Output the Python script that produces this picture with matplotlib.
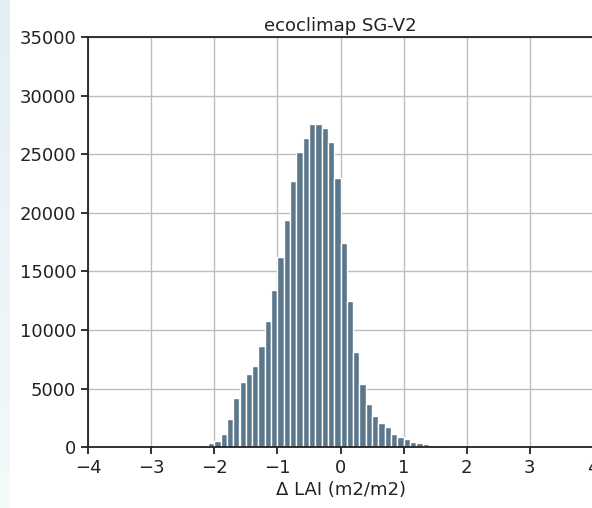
import numpy as np
import matplotlib.pyplot as plt

# histogram of LAI differences, bins of 0.1 from -2.4 to 1.8
bin_left = -2.4
bin_width = 0.1
counts = [50, 120, 180, 330, 530, 1100, 2380, 4180, 5550, 6260,
          6940, 8650, 10800, 13380, 16250, 19400, 22750, 25150, 26400, 27600,
          27600, 27200, 26000, 23000, 17450, 12450, 8100, 5350, 3670, 2700,
          2040, 1700, 1100, 900, 700, 470, 330, 250, 200, 220,
          150, 50]

title = "ecoclimap SG-V2"
xlabel = "\u0394 LAI (m2/m2)"
xticks = [-4, -3, -2, -1, 0, 1, 2, 3, 4]
yticks = [0, 5000, 10000, 15000, 20000, 25000, 30000, 35000]

edges = bin_left + bin_width * np.arange(len(counts) + 1)
centers = 0.5 * (edges[:-1] + edges[1:])

W, H = 592, 508
fig = plt.figure(figsize=(W / 100, H / 100), dpi=100)

# light strip on the far left of the screenshot
strip = fig.add_axes([0, 0, 10 / W, 1])
grad = np.linspace(0, 1, 100).reshape(-1, 1)
strip.imshow(grad, aspect="auto", cmap=plt.matplotlib.colors.LinearSegmentedColormap.from_list(
    "s", ["#e3eff2", "#f4f9fa"]), extent=[0, 1, 0, 1])
strip.axis("off")

ax = fig.add_axes([88 / W, 1 - 447.2 / H, (593 - 88) / W, (447.2 - 37) / H])
ax.hist(centers, bins=edges, weights=counts, color="#5b778c",
        edgecolor="white", linewidth=1.0, zorder=2)

ax.set_xlim(-4, 4)
ax.set_ylim(0, 35000)
ax.set_xticks(xticks)
ax.set_yticks(yticks)
ax.grid(True, color="#bdbdbd", linewidth=1.0, zorder=0)
ax.set_axisbelow(True)

for s in ax.spines.values():
    s.set_linewidth(1.3)
    s.set_color("#222222")
ax.tick_params(labelsize=13, length=5, width=1.3, colors="#222222")
ax.set_title(title, fontsize=13, pad=4, color="#222222")
ax.set_xlabel(xlabel, fontsize=13, labelpad=3, color="#222222")

fig.savefig("out.png", dpi=100)
